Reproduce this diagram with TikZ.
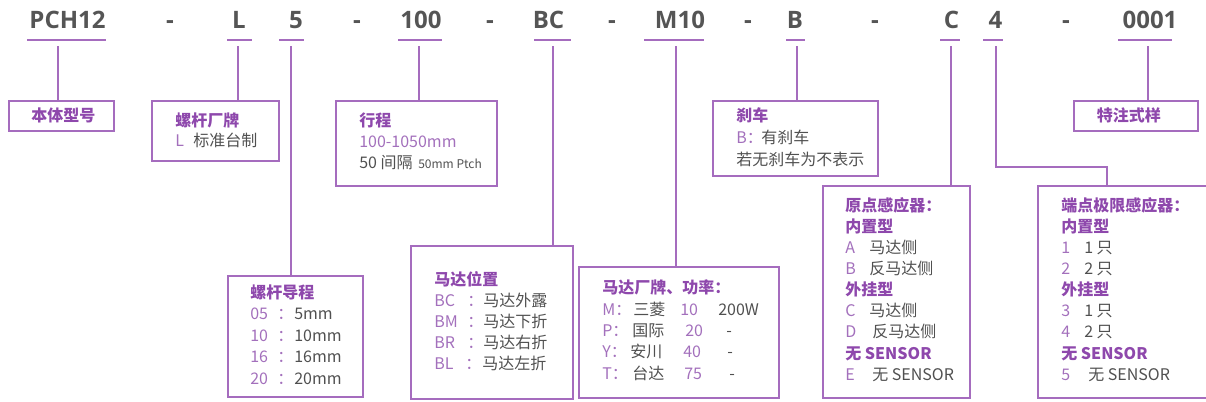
\documentclass[tikz,border=0pt]{standalone}
\usepackage{fontspec}
\setmainfont{Noto Sans CJK SC}
\newfontfamily\hdrfont{Open Sans}
\usetikzlibrary{calc}
\definecolor{linecol}{RGB}{165,108,190}
\definecolor{titlecol}{RGB}{142,72,172}
\definecolor{codecol}{RGB}{163,112,188}
\definecolor{textcol}{RGB}{80,80,80}
\definecolor{hdrcol}{RGB}{85,85,85}
\newlength{\px}\setlength{\px}{0.75pt}
\newcommand\cc[1]{\textcolor{codecol}{#1}}
\begin{document}
\begin{tikzpicture}[x=0.75pt,y=-0.75pt,
  hdr/.style={anchor=base, inner sep=0, font=\hdrfont\bfseries\fontsize{18}{20}\selectfont, text=hdrcol},
  uline/.style={fill=linecol, draw=none, inner sep=0, minimum height=2\px, anchor=center},
  box/.style={draw=linecol, line width=1.6\px, inner sep=0, anchor=north west},
  conn/.style={draw=linecol, line width=1.5\px},
  txt/.style={anchor=base west, inner sep=0, font=\fontsize{12}{14}\selectfont, text=textcol},
  ttl/.style={txt, font=\bfseries\fontsize{12}{14}\selectfont, text=titlecol},
  sml/.style={txt, font=\fontsize{9}{10}\selectfont}]
\useasboundingbox (0,0) rectangle (1206,402);
\clip (0,0) rectangle (1206,402);
% header
\node[hdr] (h1) at (67.5,29) {PCH12};
\node[hdr] (d1) at (170,29) {-};
\node[hdr] (h2) at (239,29) {L};
\node[hdr] (h3) at (296,29) {5};
\node[hdr] (d2) at (357,29) {-};
\node[hdr] (h4) at (421,29) {100};
\node[hdr] (d3) at (490,29) {-};
\node[hdr] (h5) at (548.5,29) {BC};
\node[hdr] (d4) at (612,29) {-};
\node[hdr] (h6) at (680,29) {M10};
\node[hdr] (d5) at (748,29) {-};
\node[hdr] (h7) at (795,29) {B};
\node[hdr] (d6) at (875,29) {-};
\node[hdr] (h8) at (951.5,29) {C};
\node[hdr] (h9) at (995.5,29) {4};
\node[hdr] (d7) at (1066,29) {-};
\node[hdr] (h10) at (1150,29) {0001};
% underlines
\node[uline, minimum width=79\px] (u1) at (66.5,40) {};
\node[uline, minimum width=25\px] (u2) at (239.5,40) {};
\node[uline, minimum width=25\px] (u3) at (291.5,40) {};
\node[uline, minimum width=44\px] (u4) at (420,40) {};
\node[uline, minimum width=37\px] (u5) at (552.5,40) {};
\node[uline, minimum width=60\px] (u6) at (674,40) {};
\node[uline, minimum width=19\px] (u7) at (795.5,40) {};
\node[uline, minimum width=20\px] (u8) at (950,40) {};
\node[uline, minimum width=20\px] (u9) at (993,40) {};
\node[uline, minimum width=54\px] (u10) at (1145,40) {};
% boxes
\node[box, minimum width=105\px, minimum height=30\px] (b1) at (8,100) {};
\node[box, minimum width=127\px, minimum height=60\px] (b2) at (151,100) {};
\node[box, minimum width=135\px, minimum height=121\px] (b3) at (227,275) {};
\node[box, minimum width=161\px, minimum height=85\px] (b4) at (335,100) {};
\node[box, minimum width=162\px, minimum height=153\px] (b5) at (410,245) {};
\node[box, minimum width=200\px, minimum height=131\px] (b6) at (578,266) {};
\node[box, minimum width=165\px, minimum height=75\px] (b7) at (712,100) {};
\node[box, minimum width=147\px, minimum height=212\px] (b8) at (822,185) {};
\node[box, minimum width=180\px, minimum height=212\px] (b9) at (1037,185) {};
\node[box, minimum width=124\px, minimum height=30\px] (b10) at (1073,100) {};
% connectors
\draw[conn] ($(u1.south)+(-8.5,5)$) coordinate (k1) -- (k1 |- b1.north);
\draw[conn] ($(u2.south)+(-1.5,5)$) coordinate (k2) -- (k2 |- b2.north);
\draw[conn] ($(u3.south)+(-0.5,5)$) coordinate (k3) -- (k3 |- b3.north);
\draw[conn] ($(u4.south)+(-1,5)$) coordinate (k4) -- (k4 |- b4.north);
\draw[conn] ($(u5.south)+(0.5,5)$) coordinate (k5) -- (k5 |- b5.north);
\draw[conn] ($(u6.south)+(2,5)$) coordinate (k6) -- (k6 |- b6.north);
\draw[conn] ($(u7.south)+(1.5,5)$) coordinate (k7) -- (k7 |- b7.north);
\draw[conn] ($(u8.south)+(1,5)$) coordinate (k8) -- (k8 |- b8.north);
\coordinate (k9e) at ($(b9.north west)+(70,0)$);
\draw[conn] ($(u9.south)+(3,5)$) coordinate (k9) |- ($(k9e)+(0,-18)$) -- (k9e);
\draw[conn] ($(u10.south)+(3,5)$) coordinate (k10) -- (k10 |- b10.north);
% box 1
\node[ttl, anchor=center] (t1) at ($(b1.center)+(2,0)$) {本体型号};
% box 2
\node[ttl] (t2a) at (175,127) {螺杆厂牌};
\node[txt] (t2b) at (175,147) {\makebox[18\px][l]{\cc{L}}标准台制};
% box 3
\node[ttl] (t3a) at (250,299) {螺杆导程};
\node[txt] (t3b) at (250,320) {\makebox[27\px][l]{\cc{05}}\makebox[17\px][l]{\cc{：}}5mm};
\node[txt] (t3c) at (250,342) {\makebox[27\px][l]{\cc{10}}\makebox[17\px][l]{\cc{：}}10mm};
\node[txt] (t3d) at (250,363) {\makebox[27\px][l]{\cc{16}}\makebox[17\px][l]{\cc{：}}16mm};
\node[txt] (t3e) at (250,384) {\makebox[27\px][l]{\cc{20}}\makebox[17\px][l]{\cc{：}}20mm};
% box 4
\node[ttl] (t4a) at (359,127) {行程};
\node[txt] (t4b) at (359,148) {\cc{100-1050mm}};
\node[txt] (t4c) at (359,169) {50 间隔};
\node[sml] (t4d) at (418,169) {50mm Ptch};
% box 5
\node[ttl] (t5a) at (434,286) {马达位置};
\node[txt] (t5b) at (434,307) {\makebox[33\px][l]{\cc{BC}}\makebox[16\px][l]{\cc{：}}马达外露};
\node[txt] (t5c) at (434,328) {\makebox[33\px][l]{\cc{BM}}\makebox[16\px][l]{\cc{：}}马达下折};
\node[txt] (t5d) at (434,349) {\makebox[33\px][l]{\cc{BR}}\makebox[16\px][l]{\cc{：}}马达右折};
\node[txt] (t5e) at (434,370) {\makebox[31\px][l]{\cc{BL}}\makebox[17\px][l]{\cc{：}}马达左折};
% box 6
\node[ttl] (t6a) at (602,294) {马达厂牌、功率：};
\node[txt] (t6b) at (602,316) {\makebox[31\px][l]{\cc{M：}}\makebox[47\px][l]{三菱}\makebox[38\px][l]{\cc{10}}200W};
\node[txt] (t6c) at (602,337) {\makebox[30\px][l]{\cc{P：}}\makebox[53\px][l]{国际}\makebox[41\px][l]{\cc{20}}-};
\node[txt] (t6d) at (602,358) {\makebox[28\px][l]{\cc{Y：}}\makebox[53\px][l]{安川}\makebox[44\px][l]{\cc{40}}-};
\node[txt] (t6e) at (602,379) {\makebox[30\px][l]{\cc{T：}}\makebox[52\px][l]{台达}\makebox[45\px][l]{\cc{75}}-};
% box 7
\node[ttl] (t7a) at (736,122) {刹车};
\node[txt] (t7b) at (736,144) {\makebox[25\px][l]{\cc{B：}}有刹车};
\node[txt] (t7c) at (736,166) {若无刹车为不表示};
% box 8
\node[ttl] (t8a) at (845,212) {原点感应器：};
\node[ttl] (t8b) at (845,233) {内置型};
\node[txt] (t8c) at (845,254) {\makebox[24\px][l]{\cc{A}}马达侧};
\node[txt] (t8d) at (845,275) {\makebox[24\px][l]{\cc{B}}反马达侧};
\node[ttl] (t8e) at (845,296) {外挂型};
\node[txt] (t8f) at (845,317) {\makebox[24\px][l]{\cc{C}}马达侧};
\node[txt] (t8g) at (845,338) {\makebox[27\px][l]{\cc{D}}反马达侧};
\node[ttl] (t8h) at (845,360) {无 SENSOR};
\node[txt] (t8i) at (845,381) {\makebox[27\px][l]{\cc{E}}无 SENSOR};
% box 9
\node[ttl] (t9a) at (1061,212) {端点极限感应器：};
\node[ttl] (t9b) at (1061,233) {内置型};
\node[txt] (t9c) at (1061,254) {\makebox[23\px][l]{\cc{1}}1 只};
\node[txt] (t9d) at (1061,275) {\makebox[23\px][l]{\cc{2}}2 只};
\node[ttl] (t9e) at (1061,296) {外挂型};
\node[txt] (t9f) at (1061,317) {\makebox[23\px][l]{\cc{3}}1 只};
\node[txt] (t9g) at (1061,338) {\makebox[23\px][l]{\cc{4}}2 只};
\node[ttl] (t9h) at (1061,360) {无 SENSOR};
\node[txt] (t9i) at (1061,381) {\makebox[27\px][l]{\cc{5}}无 SENSOR};
% box 10
\node[ttl, anchor=center] (t10) at ($(b10.center)+(-7,0)$) {特注式样};
\end{tikzpicture}
\end{document}
